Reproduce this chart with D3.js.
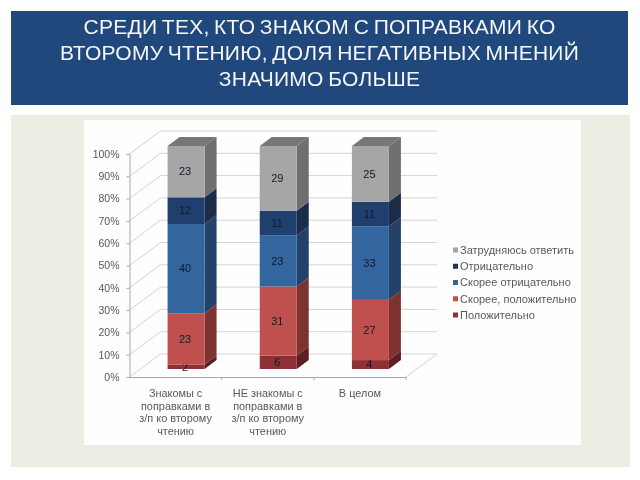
<!DOCTYPE html>
<html>
<head>
<meta charset="utf-8">
<script src="https://cdn.jsdelivr.net/npm/d3@7"></script>
<style>
    html, body { margin: 0; padding: 0; background: #fff; overflow: hidden; }
    svg { display: block; filter: blur(0.35px); }
    text { font-family: "Liberation Sans", Arial, sans-serif; }
</style>
</head>
<body>
<div id="chart"></div>
<script>
//data
var titleLines = [
    'СРЕДИ ТЕХ, КТО ЗНАКОМ С ПОПРАВКАМИ КО',
    'ВТОРОМУ ЧТЕНИЮ, ДОЛЯ НЕГАТИВНЫХ МНЕНИЙ',
    'ЗНАЧИМО БОЛЬШЕ'
];
var categories = ['a', 'b', 'c'];
var categoryLabels = [
    ['Знакомы с', 'поправками в', 'з/п ко второму', 'чтению'],
    ['НЕ знакомы с', 'поправками в', 'з/п ко второму', 'чтению'],
    ['В целом']
];
var seriesNames = ['Положительно', 'Скорее, положительно', 'Скорее отрицательно', 'Отрицательно', 'Затрудняюсь ответить'];
var positive = [2, 6, 4];
var ratherPositive = [23, 31, 27];
var ratherNegative = [40, 23, 33];
var negative = [12, 11, 11];
var unsure = [23, 29, 25];
var yTicks = [0, 10, 20, 30, 40, 50, 60, 70, 80, 90, 100];

//kulay: front, side, top
var front = ['#8e3034', '#c0504d', '#33659f', '#1f3f6e', '#a6a6a6'];
var side = ['#5e1f24', '#7f3331', '#234169', '#1a2c48', '#6f6f6f'];
var topColor = '#777777';
var legendColors = ['#8e3034', '#c0504d', '#33659f', '#1f3557', '#a6a6a6'];

var svg = d3.select('#chart').append('svg')
    .attr('width', 640)
    .attr('height', 480);

//slide background
svg.append('rect').attr('x', 11).attr('y', 115).attr('width', 619).attr('height', 352).attr('fill', '#eeede4');
svg.append('rect').attr('x', 84).attr('y', 120).attr('width', 497).attr('height', 325).attr('fill', '#fefefe');
svg.append('rect').attr('x', 11).attr('y', 11).attr('width', 617).attr('height', 94).attr('fill', '#20487c');

svg.append('g').selectAll('text')
    .data(titleLines)
    .join('text')
    .attr('x', 319.5)
    .attr('y', function(d, i) { return 34 + i * 26; })
    .attr('text-anchor', 'middle')
    .attr('font-size', 21)
    .attr('letter-spacing', 0.25)
    .attr('word-spacing', -1.5)
    .attr('fill', '#f4f6f8')
    .text(function(d) { return d; });

//plot
var wallX = 31, wallY = -23; //back wall offset
var depthX = 12, depthY = -9; //bar depth
var barShiftX = 10.5, barShiftY = -8;
var barWidth = 37;

var x = d3.scaleBand().domain(categories).range([129.5, 406]);
var y = d3.scaleLinear().domain([0, 100]).range([377, 154]);

var rows = categories.map(function(c, i) {
    return { cat: c, s0: positive[i], s1: ratherPositive[i], s2: ratherNegative[i], s3: negative[i], s4: unsure[i] };
});
var stacked = d3.stack().keys(['s0', 's1', 's2', 's3', 's4'])(rows);

var plot = svg.append('g').attr('class', 'plot');
var gridColor = '#d4d4d4';

//back wall lines and side wall diagonals
plot.append('g').selectAll('line')
    .data(yTicks)
    .join('line')
    .attr('x1', x.range()[0] + wallX)
    .attr('x2', x.range()[1] + wallX)
    .attr('y1', function(d) { return y(d) + wallY; })
    .attr('y2', function(d) { return y(d) + wallY; })
    .attr('stroke', gridColor);

plot.append('g').selectAll('line')
    .data(yTicks)
    .join('line')
    .attr('x1', x.range()[0])
    .attr('x2', x.range()[0] + wallX)
    .attr('y1', function(d) { return y(d); })
    .attr('y2', function(d) { return y(d) + wallY; })
    .attr('stroke', gridColor);

//floor right edge
plot.append('line')
    .attr('x1', x.range()[1]).attr('x2', x.range()[1] + wallX)
    .attr('y1', y(0)).attr('y2', y(0) + wallY)
    .attr('stroke', gridColor);

//axes
var axisY = d3.axisLeft(y).tickValues(yTicks).tickSize(3).tickPadding(7)
    .tickFormat(function(d) { return d + '%'; });
var yAxis = plot.append('g')
    .attr('transform', 'translate(' + x.range()[0] + ',0)')
    .call(axisY);
yAxis.selectAll('text').attr('font-size', 10.5).attr('fill', '#595959')
    .style('font-family', '"Liberation Sans", Arial, sans-serif');
yAxis.selectAll('line').attr('stroke', '#a8a8a8');
yAxis.select('.domain').attr('stroke', '#a8a8a8');

var axisX = d3.axisBottom(x).tickSize(0).tickFormat('');
var xAxis = plot.append('g')
    .attr('transform', 'translate(0,' + y(0) + ')')
    .call(axisX);
xAxis.select('.domain').attr('stroke', '#a8a8a8');

//category separators on the x axis
plot.append('g').selectAll('line')
    .data(categories)
    .join('line')
    .attr('x1', function(d) { return x(d) + x.bandwidth(); })
    .attr('x2', function(d) { return x(d) + x.bandwidth(); })
    .attr('y1', y(0))
    .attr('y2', y(0) + 3)
    .attr('stroke', '#a8a8a8');

//bars
var barLeft = function(d) {
    return x(d.data.cat) + x.bandwidth() / 2 - barWidth / 2 + barShiftX;
};
var pts = function(arr) {
    return arr.map(function(p) { return p.join(','); }).join(' ');
};

var layers = plot.append('g').selectAll('g')
    .data(stacked)
    .join('g');

layers.selectAll('polygon.side')
    .data(function(s) { return s.map(function(d) { return { d: d, i: s.index }; }); })
    .join('polygon')
    .attr('class', 'side')
    .attr('fill', function(o) { return side[o.i]; })
    .attr('points', function(o) {
        var r = barLeft(o.d) + barWidth;
        var y0 = y(o.d[0]) + barShiftY, y1 = y(o.d[1]) + barShiftY;
        return pts([[r, y0], [r + depthX, y0 + depthY], [r + depthX, y1 + depthY], [r, y1]]);
    });

layers.selectAll('rect')
    .data(function(s) { return s.map(function(d) { return { d: d, i: s.index }; }); })
    .join('rect')
    .attr('x', function(o) { return barLeft(o.d); })
    .attr('y', function(o) { return y(o.d[1]) + barShiftY; })
    .attr('width', barWidth)
    .attr('height', function(o) { return y(o.d[0]) - y(o.d[1]); })
    .attr('fill', function(o) { return front[o.i]; });

//top cap of the last series
plot.append('g').selectAll('polygon')
    .data(stacked[stacked.length - 1])
    .join('polygon')
    .attr('fill', topColor)
    .attr('points', function(d) {
        var l = barLeft(d), t = y(d[1]) + barShiftY;
        return pts([[l, t], [l + barWidth, t], [l + barWidth + depthX, t + depthY], [l + depthX, t + depthY]]);
    });

//value labels
layers.selectAll('text')
    .data(function(s) { return s; })
    .join('text')
    .attr('x', function(d) { return barLeft(d) + barWidth / 2 - 1; })
    .attr('y', function(d) { return y((d[0] + d[1]) / 2) + barShiftY + 3.8; })
    .attr('text-anchor', 'middle')
    .attr('font-size', 11)
    .attr('fill', '#14182a')
    .text(function(d) { return d[1] - d[0]; });

//category labels
var catLabels = plot.append('g').selectAll('text')
    .data(categories)
    .join('text')
    .attr('text-anchor', 'middle')
    .attr('font-size', 10.9)
    .attr('fill', '#595959');

catLabels.selectAll('tspan')
    .data(function(c, i) {
        return categoryLabels[i].map(function(t) { return { t: t, c: c }; });
    })
    .join('tspan')
    .attr('x', function(o) { return x(o.c) + x.bandwidth() / 2; })
    .attr('y', function(o, i) { return 397 + i * 12.7; })
    .text(function(o) { return o.t; });

//legend
var legendY = d3.scalePoint()
    .domain(seriesNames.slice().reverse())
    .range([250, 315]);

var legend = svg.append('g').selectAll('g')
    .data(seriesNames)
    .join('g')
    .attr('transform', function(d) { return 'translate(453,' + legendY(d) + ')'; });

legend.append('rect')
    .attr('x', 0)
    .attr('y', -2.5)
    .attr('width', 5)
    .attr('height', 5)
    .attr('fill', function(d, i) { return legendColors[i]; });

legend.append('text')
    .attr('x', 7)
    .attr('y', 3.8)
    .attr('font-size', 11)
    .attr('fill', '#595959')
    .text(function(d) { return d; });
</script>
</body>
</html>
